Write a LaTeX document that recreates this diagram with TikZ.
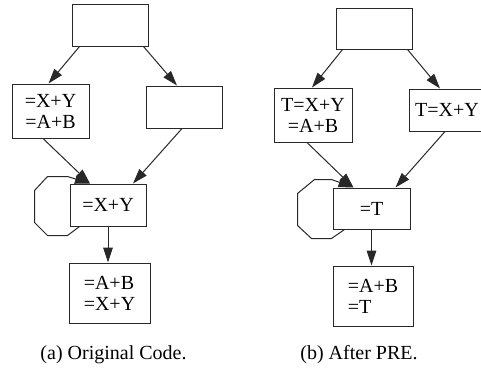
\documentclass[tikz,border=0pt]{standalone}
\usepackage{fontspec}
\setmainfont{Liberation Serif}
\usetikzlibrary{arrows.meta}
\definecolor{LineGray}{RGB}{40,40,40}
\tikzset{
    block/.style={draw=LineGray, line width=0.5pt, fill=white, inner sep=0pt,
        font=\fontsize{10}{10.5}\selectfont, align=center},
    flow/.style={draw=LineGray, line width=0.5pt, -{Triangle[length=7.5pt,width=4.8pt]}},
    caption_text/.style={font=\fontsize{10}{12}\selectfont}
}
\begin{document}
\begin{tikzpicture}[x=0.5pt, y=-0.5pt]
    \useasboundingbox (0,0) rectangle (481,371);

    % --- (a) ORIGINAL CODE ---
    \node[block, minimum width=38pt, minimum height=21pt] (topA) at (110,25) {};
    \node[block, minimum width=38.5pt, minimum height=27pt] (leftA) at (50.5,111) {=X+Y\\=A+B};
    \node[block, minimum width=38pt, minimum height=21pt] (rightA) at (184,107) {};
    \node[block, minimum width=38pt, minimum height=21pt] (midA) at (108,205) {=X+Y};
    \node[block, minimum width=40.5pt, minimum height=30pt, align=left] (botA) at (109.5,293) {=A+B\\=X+Y};

    \draw[flow] ([xshift=4pt]topA.south west) -- ([xshift=-1pt]leftA.north);
    \draw[flow] ([xshift=-2.5pt]topA.south east) -- ([xshift=-3.5pt]rightA.north);
    \draw[flow] ([xshift=-3.75pt]leftA.south) -- ([xshift=-9pt]midA.north);
    \draw[flow] ([xshift=-1pt]rightA.south) -- ([xshift=12.5pt]midA.north);
    \draw[flow] (midA.south) -- (midA.south |- botA.north);
    % vong lap
    \draw[flow] ([xshift=5pt]midA.south west) -- ++(-12,9) -- ++(-20,0) -- ++(-13,-13)
        -- ++(0,-32) -- ++(13,-14) -- ++(20,0) -- ([xshift=-9pt]midA.north);

    % --- (b) AFTER PRE ---
    \node[block, minimum width=38pt, minimum height=20.5pt] (topB) at (374,28.5) {};
    \node[block, minimum width=39pt, minimum height=27pt] (leftB) at (313,115) {T=X+Y\\=A+B};
    \node[block, minimum width=38pt, minimum height=21pt] (rightB) at (447,110) {T=X+Y};
    \node[block, minimum width=38.5pt, minimum height=20.5pt] (midB) at (371.5,208.5) {=T};
    \node[block, minimum width=40pt, minimum height=30pt, align=left] (botB) at (373,296) {=A+B\\=T};

    \draw[flow] ([xshift=3.5pt]topB.south west) -- ([xshift=-0.5pt]leftB.north);
    \draw[flow] ([xshift=-2.5pt]topB.south east) -- ([xshift=-3.5pt]rightB.north);
    \draw[flow] ([xshift=-3pt]leftB.south) -- ([xshift=-9pt]midB.north);
    \draw[flow] ([xshift=-1pt]rightB.south) -- ([xshift=12pt]midB.north);
    \draw[flow] (midB.south) -- (midB.south |- botB.north);
    % vong lap
    \draw[flow] ([xshift=6pt]midB.south west) -- ++(-13,9) -- ++(-20,0) -- ++(-14,-13)
        -- ++(0,-32) -- ++(17,-14) -- ++(17,0) -- ([xshift=-9pt]midB.north);

    % --- CHU THICH ---
    \node[caption_text] (capA) at (113.5,355) {(a) Original Code.};
    \node[caption_text] (capB) at (359,355) {(b) After PRE.};
\end{tikzpicture}
\end{document}
